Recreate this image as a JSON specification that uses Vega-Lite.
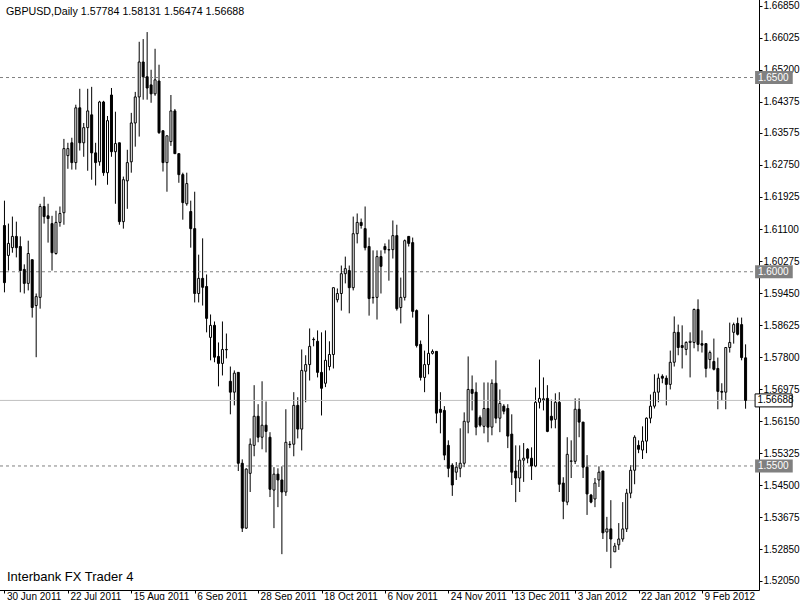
{
"$schema":"https://vega.github.io/schema/vega-lite/v6.json",
"width":800,"height":600,
"autosize":{"type":"fit","contains":"padding"},
"padding":{"left":-5,"top":-4,"right":0,"bottom":-1},
"background":"white",
"view":{"stroke":null},
"config":{"font":"Liberation Sans",
 "axisX":{"grid":false,"domainColor":"black","tickColor":"black","tickSize":3,"labelAlign":"left","labelBaseline":"top","labelPadding":-2,"labelOffset":2,"labelFont":"Liberation Sans","labelFontSize":10,"labelColor":"black","labelOverlap":false,"labelFlush":false},
 "axisY":{"grid":false,"domainColor":"black","tickColor":"black","tickSize":3,"labelPadding":1,"labelFont":"Liberation Sans","labelFontSize":10,"labelColor":"black","labelOverlap":false,"labelFlush":false}
},
"datasets":{
"bars":[
{"i":0,"o":1.6119,"h":1.6183,"l":1.5947,"c":1.5972},
{"i":1,"o":1.6042,"h":1.6124,"l":1.6003,"c":1.6073},
{"i":2,"o":1.6062,"h":1.6142,"l":1.6049,"c":1.6091},
{"i":3,"o":1.6091,"h":1.6129,"l":1.6037,"c":1.6062},
{"i":4,"o":1.6065,"h":1.6091,"l":1.5947,"c":1.6003},
{"i":5,"o":1.6006,"h":1.6019,"l":1.5944,"c":1.5970},
{"i":6,"o":1.5970,"h":1.6080,"l":1.5952,"c":1.6047},
{"i":7,"o":1.6031,"h":1.6031,"l":1.5882,"c":1.5908},
{"i":8,"o":1.5913,"h":1.5944,"l":1.5780,"c":1.5936},
{"i":9,"o":1.5934,"h":1.6175,"l":1.5905,"c":1.6168},
{"i":10,"o":1.6168,"h":1.6193,"l":1.6124,"c":1.6142},
{"i":11,"o":1.6144,"h":1.6175,"l":1.6075,"c":1.6137},
{"i":12,"o":1.6124,"h":1.6144,"l":1.6003,"c":1.6049},
{"i":13,"o":1.6047,"h":1.6157,"l":1.6044,"c":1.6127},
{"i":14,"o":1.6127,"h":1.6168,"l":1.6116,"c":1.6150},
{"i":15,"o":1.6152,"h":1.6342,"l":1.6121,"c":1.6317},
{"i":16,"o":1.6299,"h":1.6332,"l":1.6265,"c":1.6317},
{"i":17,"o":1.6332,"h":1.6345,"l":1.6263,"c":1.6281},
{"i":18,"o":1.6281,"h":1.6430,"l":1.6263,"c":1.6422},
{"i":19,"o":1.6422,"h":1.6471,"l":1.6312,"c":1.6332},
{"i":20,"o":1.6332,"h":1.6383,"l":1.6296,"c":1.6371},
{"i":21,"o":1.6371,"h":1.6471,"l":1.6260,"c":1.6414},
{"i":22,"o":1.6404,"h":1.6476,"l":1.6237,"c":1.6306},
{"i":23,"o":1.6306,"h":1.6332,"l":1.6222,"c":1.6281},
{"i":24,"o":1.6283,"h":1.6440,"l":1.6273,"c":1.6437},
{"i":25,"o":1.6437,"h":1.6440,"l":1.6247,"c":1.6255},
{"i":26,"o":1.6255,"h":1.6401,"l":1.6224,"c":1.6389},
{"i":27,"o":1.6455,"h":1.6473,"l":1.6296,"c":1.6309},
{"i":28,"o":1.6309,"h":1.6412,"l":1.6175,"c":1.6330},
{"i":29,"o":1.6332,"h":1.6332,"l":1.6121,"c":1.6129},
{"i":30,"o":1.6129,"h":1.6245,"l":1.6111,"c":1.6237},
{"i":31,"o":1.6234,"h":1.6314,"l":1.6162,"c":1.6281},
{"i":32,"o":1.6283,"h":1.6409,"l":1.6255,"c":1.6383},
{"i":33,"o":1.6383,"h":1.6463,"l":1.6322,"c":1.6450},
{"i":34,"o":1.6450,"h":1.6592,"l":1.6348,"c":1.6540},
{"i":35,"o":1.6540,"h":1.6599,"l":1.6443,"c":1.6502},
{"i":36,"o":1.6502,"h":1.6617,"l":1.6443,"c":1.6473},
{"i":37,"o":1.6481,"h":1.6520,"l":1.6435,"c":1.6458},
{"i":38,"o":1.6458,"h":1.6574,"l":1.6453,"c":1.6494},
{"i":39,"o":1.6491,"h":1.6533,"l":1.6355,"c":1.6358},
{"i":40,"o":1.6363,"h":1.6363,"l":1.6258,"c":1.6281},
{"i":41,"o":1.6281,"h":1.6350,"l":1.6206,"c":1.6350},
{"i":42,"o":1.6335,"h":1.6455,"l":1.6324,"c":1.6414},
{"i":43,"o":1.6414,"h":1.6419,"l":1.6304,"c":1.6304},
{"i":44,"o":1.6304,"h":1.6304,"l":1.6229,"c":1.6250},
{"i":45,"o":1.6250,"h":1.6255,"l":1.6134,"c":1.6178},
{"i":46,"o":1.6175,"h":1.6255,"l":1.6170,"c":1.6227},
{"i":47,"o":1.6155,"h":1.6183,"l":1.6062,"c":1.6111},
{"i":48,"o":1.6111,"h":1.6206,"l":1.5921,"c":1.5944},
{"i":49,"o":1.5944,"h":1.6044,"l":1.5921,"c":1.5983},
{"i":50,"o":1.5983,"h":1.6086,"l":1.5913,"c":1.5960},
{"i":51,"o":1.5962,"h":1.5993,"l":1.5844,"c":1.5880},
{"i":52,"o":1.5831,"h":1.5890,"l":1.5772,"c":1.5862},
{"i":53,"o":1.5862,"h":1.5872,"l":1.5767,"c":1.5780},
{"i":54,"o":1.5782,"h":1.5818,"l":1.5705,"c":1.5764},
{"i":55,"o":1.5764,"h":1.5872,"l":1.5733,"c":1.5800},
{"i":56,"o":1.5800,"h":1.5841,"l":1.5777,"c":1.5799},
{"i":57,"o":1.5718,"h":1.5756,"l":1.5633,"c":1.5690},
{"i":58,"o":1.5690,"h":1.5746,"l":1.5656,"c":1.5739},
{"i":59,"o":1.5741,"h":1.5741,"l":1.5487,"c":1.5507},
{"i":60,"o":1.5507,"h":1.5517,"l":1.5330,"c":1.5340},
{"i":61,"o":1.5340,"h":1.5494,"l":1.5338,"c":1.5492},
{"i":62,"o":1.5481,"h":1.5571,"l":1.5433,"c":1.5556},
{"i":63,"o":1.5553,"h":1.5708,"l":1.5525,"c":1.5628},
{"i":64,"o":1.5628,"h":1.5659,"l":1.5561,"c":1.5574},
{"i":65,"o":1.5574,"h":1.5718,"l":1.5543,"c":1.5605},
{"i":66,"o":1.5605,"h":1.5666,"l":1.5535,"c":1.5589},
{"i":67,"o":1.5574,"h":1.5587,"l":1.5420,"c":1.5440},
{"i":68,"o":1.5438,"h":1.5497,"l":1.5340,"c":1.5479},
{"i":69,"o":1.5479,"h":1.5494,"l":1.5394,"c":1.5464},
{"i":70,"o":1.5464,"h":1.5499,"l":1.5273,"c":1.5433},
{"i":71,"o":1.5433,"h":1.5646,"l":1.5423,"c":1.5561},
{"i":72,"o":1.5556,"h":1.5564,"l":1.5546,"c":1.5555},
{"i":73,"o":1.5556,"h":1.5690,"l":1.5525,"c":1.5656},
{"i":74,"o":1.5656,"h":1.5677,"l":1.5571,"c":1.5595},
{"i":75,"o":1.5595,"h":1.5800,"l":1.5540,"c":1.5746},
{"i":76,"o":1.5744,"h":1.5785,"l":1.5664,"c":1.5761},
{"i":77,"o":1.5761,"h":1.5854,"l":1.5720,"c":1.5808},
{"i":78,"o":1.5826,"h":1.5831,"l":1.5808,"c":1.5825},
{"i":79,"o":1.5821,"h":1.5849,"l":1.5728,"c":1.5741},
{"i":80,"o":1.5741,"h":1.5844,"l":1.5630,"c":1.5700},
{"i":81,"o":1.5713,"h":1.5849,"l":1.5703,"c":1.5772},
{"i":82,"o":1.5756,"h":1.5821,"l":1.5746,"c":1.5787},
{"i":83,"o":1.5787,"h":1.5959,"l":1.5751,"c":1.5959},
{"i":84,"o":1.5928,"h":1.5957,"l":1.5921,"c":1.5944},
{"i":85,"o":1.5944,"h":1.6016,"l":1.5900,"c":1.5995},
{"i":86,"o":1.5995,"h":1.6039,"l":1.5970,"c":1.6008},
{"i":87,"o":1.6003,"h":1.6016,"l":1.5893,"c":1.5959},
{"i":88,"o":1.5959,"h":1.6142,"l":1.5952,"c":1.6098},
{"i":89,"o":1.6098,"h":1.6150,"l":1.6073,"c":1.6127},
{"i":90,"o":1.6127,"h":1.6137,"l":1.6111,"c":1.6119},
{"i":91,"o":1.6111,"h":1.6168,"l":1.6055,"c":1.6062},
{"i":92,"o":1.6065,"h":1.6088,"l":1.5887,"c":1.5931},
{"i":93,"o":1.5934,"h":1.6055,"l":1.5918,"c":1.5933},
{"i":94,"o":1.5934,"h":1.6055,"l":1.5877,"c":1.6039},
{"i":95,"o":1.6039,"h":1.6055,"l":1.5944,"c":1.6014},
{"i":96,"o":1.6065,"h":1.6073,"l":1.6047,"c":1.6057},
{"i":97,"o":1.6057,"h":1.6083,"l":1.5977,"c":1.6056},
{"i":98,"o":1.6057,"h":1.6132,"l":1.6034,"c":1.6093},
{"i":99,"o":1.6093,"h":1.6121,"l":1.5900,"c":1.5905},
{"i":100,"o":1.5908,"h":1.5985,"l":1.5867,"c":1.5934},
{"i":101,"o":1.5934,"h":1.6083,"l":1.5926,"c":1.6080},
{"i":102,"o":1.6091,"h":1.6091,"l":1.6065,"c":1.6073},
{"i":103,"o":1.6075,"h":1.6088,"l":1.5882,"c":1.5898},
{"i":104,"o":1.5900,"h":1.5903,"l":1.5805,"c":1.5810},
{"i":105,"o":1.5813,"h":1.5823,"l":1.5720,"c":1.5728},
{"i":106,"o":1.5728,"h":1.5797,"l":1.5690,"c":1.5761},
{"i":107,"o":1.5761,"h":1.5890,"l":1.5736,"c":1.5790},
{"i":108,"o":1.5790,"h":1.5800,"l":1.5787,"c":1.5795},
{"i":109,"o":1.5795,"h":1.5795,"l":1.5610,"c":1.5636},
{"i":110,"o":1.5646,"h":1.5690,"l":1.5584,"c":1.5638},
{"i":111,"o":1.5643,"h":1.5654,"l":1.5515,"c":1.5528},
{"i":112,"o":1.5553,"h":1.5566,"l":1.5471,"c":1.5494},
{"i":113,"o":1.5502,"h":1.5507,"l":1.5423,"c":1.5451},
{"i":114,"o":1.5484,"h":1.5510,"l":1.5464,"c":1.5497},
{"i":115,"o":1.5494,"h":1.5597,"l":1.5471,"c":1.5507},
{"i":116,"o":1.5507,"h":1.5638,"l":1.5497,"c":1.5615},
{"i":117,"o":1.5613,"h":1.5782,"l":1.5584,"c":1.5697},
{"i":118,"o":1.5697,"h":1.5733,"l":1.5643,"c":1.5687},
{"i":119,"o":1.5690,"h":1.5715,"l":1.5579,"c":1.5600},
{"i":120,"o":1.5625,"h":1.5630,"l":1.5600,"c":1.5605},
{"i":121,"o":1.5602,"h":1.5715,"l":1.5584,"c":1.5648},
{"i":122,"o":1.5648,"h":1.5715,"l":1.5561,"c":1.5600},
{"i":123,"o":1.5600,"h":1.5723,"l":1.5579,"c":1.5713},
{"i":124,"o":1.5713,"h":1.5772,"l":1.5610,"c":1.5623},
{"i":125,"o":1.5623,"h":1.5697,"l":1.5587,"c":1.5661},
{"i":126,"o":1.5654,"h":1.5659,"l":1.5633,"c":1.5641},
{"i":127,"o":1.5648,"h":1.5659,"l":1.5546,"c":1.5577},
{"i":128,"o":1.5582,"h":1.5633,"l":1.5451,"c":1.5484},
{"i":129,"o":1.5487,"h":1.5553,"l":1.5407,"c":1.5469},
{"i":130,"o":1.5469,"h":1.5553,"l":1.5433,"c":1.5515},
{"i":131,"o":1.5515,"h":1.5559,"l":1.5459,"c":1.5520},
{"i":132,"o":1.5543,"h":1.5546,"l":1.5507,"c":1.5520},
{"i":133,"o":1.5520,"h":1.5548,"l":1.5464,"c":1.5500},
{"i":134,"o":1.5500,"h":1.5702,"l":1.5497,"c":1.5664},
{"i":135,"o":1.5664,"h":1.5774,"l":1.5648,"c":1.5674},
{"i":136,"o":1.5670,"h":1.5728,"l":1.5643,"c":1.5673},
{"i":137,"o":1.5674,"h":1.5708,"l":1.5587,"c":1.5589},
{"i":138,"o":1.5628,"h":1.5671,"l":1.5597,"c":1.5618},
{"i":139,"o":1.5620,"h":1.5687,"l":1.5597,"c":1.5664},
{"i":140,"o":1.5664,"h":1.5690,"l":1.5433,"c":1.5453},
{"i":141,"o":1.5456,"h":1.5471,"l":1.5363,"c":1.5409},
{"i":142,"o":1.5407,"h":1.5574,"l":1.5399,"c":1.5530},
{"i":143,"o":1.5512,"h":1.5566,"l":1.5469,"c":1.5513},
{"i":144,"o":1.5512,"h":1.5674,"l":1.5505,"c":1.5646},
{"i":145,"o":1.5646,"h":1.5674,"l":1.5574,"c":1.5613},
{"i":146,"o":1.5613,"h":1.5613,"l":1.5469,"c":1.5497},
{"i":147,"o":1.5497,"h":1.5528,"l":1.5374,"c":1.5428},
{"i":148,"o":1.5425,"h":1.5428,"l":1.5404,"c":1.5407},
{"i":149,"o":1.5415,"h":1.5469,"l":1.5394,"c":1.5456},
{"i":150,"o":1.5464,"h":1.5499,"l":1.5446,"c":1.5484},
{"i":151,"o":1.5487,"h":1.5487,"l":1.5312,"c":1.5328},
{"i":152,"o":1.5330,"h":1.5369,"l":1.5279,"c":1.5338},
{"i":153,"o":1.5338,"h":1.5412,"l":1.5237,"c":1.5312},
{"i":154,"o":1.5279,"h":1.5302,"l":1.5279,"c":1.5294},
{"i":155,"o":1.5297,"h":1.5353,"l":1.5284,"c":1.5312},
{"i":156,"o":1.5312,"h":1.5407,"l":1.5305,"c":1.5338},
{"i":157,"o":1.5338,"h":1.5441,"l":1.5330,"c":1.5430},
{"i":158,"o":1.5430,"h":1.5502,"l":1.5417,"c":1.5489},
{"i":159,"o":1.5489,"h":1.5579,"l":1.5453,"c":1.5574},
{"i":160,"o":1.5553,"h":1.5566,"l":1.5533,"c":1.5543},
{"i":161,"o":1.5541,"h":1.5602,"l":1.5518,"c":1.5564},
{"i":162,"o":1.5564,"h":1.5625,"l":1.5533,"c":1.5623},
{"i":163,"o":1.5623,"h":1.5684,"l":1.5610,"c":1.5654},
{"i":164,"o":1.5654,"h":1.5736,"l":1.5648,"c":1.5690},
{"i":165,"o":1.5690,"h":1.5738,"l":1.5664,"c":1.5726},
{"i":166,"o":1.5731,"h":1.5736,"l":1.5713,"c":1.5726},
{"i":167,"o":1.5726,"h":1.5733,"l":1.5656,"c":1.5710},
{"i":168,"o":1.5710,"h":1.5797,"l":1.5697,"c":1.5767},
{"i":169,"o":1.5767,"h":1.5885,"l":1.5756,"c":1.5844},
{"i":170,"o":1.5844,"h":1.5864,"l":1.5785,"c":1.5805},
{"i":171,"o":1.5810,"h":1.5862,"l":1.5751,"c":1.5805},
{"i":172,"o":1.5800,"h":1.5821,"l":1.5785,"c":1.5818},
{"i":173,"o":1.5818,"h":1.5844,"l":1.5728,"c":1.5821},
{"i":174,"o":1.5818,"h":1.5905,"l":1.5803,"c":1.5903},
{"i":175,"o":1.5903,"h":1.5929,"l":1.5795,"c":1.5813},
{"i":176,"o":1.5815,"h":1.5849,"l":1.5792,"c":1.5811},
{"i":177,"o":1.5815,"h":1.5815,"l":1.5728,"c":1.5751},
{"i":178,"o":1.5774,"h":1.5797,"l":1.5751,"c":1.5792},
{"i":179,"o":1.5769,"h":1.5828,"l":1.5746,"c":1.5749},
{"i":180,"o":1.5751,"h":1.5779,"l":1.5646,"c":1.5692},
{"i":181,"o":1.5692,"h":1.5713,"l":1.5669,"c":1.5690},
{"i":182,"o":1.5690,"h":1.5805,"l":1.5646,"c":1.5805},
{"i":183,"o":1.5805,"h":1.5869,"l":1.5792,"c":1.5818},
{"i":184,"o":1.5844,"h":1.5869,"l":1.5815,"c":1.5864},
{"i":185,"o":1.5867,"h":1.5882,"l":1.5836,"c":1.5839},
{"i":186,"o":1.5864,"h":1.5882,"l":1.5772,"c":1.5779},
{"i":187,"o":1.57784,"h":1.58131,"l":1.56474,"c":1.56688}
],
"levels":[{"p":1.65,"t":"1.6500"},{"p":1.60,"t":"1.6000"},{"p":1.55,"t":"1.5500"}],
"price":[{"p":1.56688,"t":"1.56688"}],
"header":[{"t":"GBPUSD,Daily  1.57784 1.58131 1.56474 1.56688"}],
"mark":[{"t":"Interbank FX Trader 4"}]
},
"layer":[
{"data":{"name":"bars"},"mark":{"type":"rule","color":"black","strokeWidth":1},
 "encoding":{
  "x":{"field":"i","type":"quantitative","scale":{"domain":[-0.875,189.125],"nice":false,"zero":false},
   "axis":{"title":null,"labelOverlap":false,"tickCount":40,"values":[0,16,32,48,64,80,96,112,128,144,160,176],
     "labelExpr":"['30 Jun 2011','22 Jul 2011','15 Aug 2011','6 Sep 2011','28 Sep 2011','18 Oct 2011','6 Nov 2011','24 Nov 2011','13 Dec 2011','3 Jan 2012','22 Jan 2012','9 Feb 2012'][round(datum.value/16)]"}},
  "y":{"field":"l","type":"quantitative","scale":{"domain":[1.51936,1.6697],"nice":false,"zero":false},
   "axis":{"title":null,"orient":"right","format":".5f","labelOverlap":false,"tickCount":40,"values":[1.5205,1.5285,1.53675,1.545,1.55325,1.5615,1.56975,1.578,1.58625,1.5945,1.60275,1.611,1.61925,1.6275,1.63575,1.64375,1.652,1.66025,1.6685]}},
  "y2":{"field":"h"}}},
{"data":{"name":"levels"},"mark":{"type":"rule","color":"#808080","strokeDash":[3,3],"strokeWidth":1},
 "encoding":{"y":{"field":"p","type":"quantitative","scale":{"domain":[1.51936,1.6697],"nice":false,"zero":false},"title":null}}},
{"data":{"name":"price"},"mark":{"type":"rule","color":"#c0c0c0","strokeWidth":1},
 "encoding":{"y":{"field":"p","type":"quantitative","scale":{"domain":[1.51936,1.6697],"nice":false,"zero":false},"title":null}}},
{"data":{"name":"bars"},"mark":{"type":"bar","size":2,"stroke":"black","strokeWidth":1},
 "encoding":{
  "x":{"field":"i","type":"quantitative","scale":{"domain":[-0.875,189.125],"nice":false,"zero":false},"title":null},
  "y":{"field":"o","type":"quantitative","scale":{"domain":[1.51936,1.6697],"nice":false,"zero":false},"title":null},
  "y2":{"field":"c"},
  "fill":{"condition":{"test":"datum.c >= datum.o","value":"white"},"value":"black"}}},
{"data":{"name":"levels"},"mark":{"type":"bar","size":13,"fill":"#808080","orient":"horizontal"},
 "encoding":{
  "y":{"field":"p","type":"quantitative","scale":{"domain":[1.51936,1.6697],"nice":false,"zero":false},"title":null},
  "x":{"datum":189.4,"type":"quantitative","scale":{"domain":[-0.875,189.125],"nice":false,"zero":false},"title":null},
  "x2":{"datum":198.9}}},
{"data":{"name":"price"},"mark":{"type":"bar","size":13,"fill":"white","stroke":"black","strokeWidth":1,"orient":"horizontal"},
 "encoding":{
  "y":{"field":"p","type":"quantitative","scale":{"domain":[1.51936,1.6697],"nice":false,"zero":false},"title":null},
  "x":{"datum":189.4,"type":"quantitative","scale":{"domain":[-0.875,189.125],"nice":false,"zero":false},"title":null},
  "x2":{"datum":198.75}}},
{"data":{"name":"levels"},"mark":{"type":"text","align":"left","baseline":"middle","color":"white","font":"Liberation Sans","fontSize":10},
 "encoding":{
  "y":{"field":"p","type":"quantitative","scale":{"domain":[1.51936,1.6697],"nice":false,"zero":false},"title":null},
  "x":{"datum":190.125,"type":"quantitative","scale":{"domain":[-0.875,189.125],"nice":false,"zero":false},"title":null},
  "text":{"field":"t"}}},
{"data":{"name":"price"},"mark":{"type":"text","align":"left","baseline":"middle","color":"black","font":"Liberation Sans","fontSize":10},
 "encoding":{
  "y":{"field":"p","type":"quantitative","scale":{"domain":[1.51936,1.6697],"nice":false,"zero":false},"title":null},
  "x":{"datum":190.0,"type":"quantitative","scale":{"domain":[-0.875,189.125],"nice":false,"zero":false},"title":null},
  "text":{"field":"t"}}},
{"data":{"name":"header"},"mark":{"type":"text","align":"left","baseline":"alphabetic","color":"black","font":"Liberation Sans","fontSize":10.7},
 "encoding":{
  "y":{"datum":1.6661,"type":"quantitative","scale":{"domain":[1.51936,1.6697],"nice":false,"zero":false},"title":null},
  "x":{"datum":0.375,"type":"quantitative","scale":{"domain":[-0.875,189.125],"nice":false,"zero":false},"title":null},
  "text":{"field":"t"}}},
{"data":{"name":"mark"},"mark":{"type":"text","align":"left","baseline":"alphabetic","color":"black","font":"Liberation Sans","fontSize":13},
 "encoding":{
  "y":{"datum":1.5204,"type":"quantitative","scale":{"domain":[1.51936,1.6697],"nice":false,"zero":false},"title":null},
  "x":{"datum":0.625,"type":"quantitative","scale":{"domain":[-0.875,189.125],"nice":false,"zero":false},"title":null},
  "text":{"field":"t"}}}
]
}
